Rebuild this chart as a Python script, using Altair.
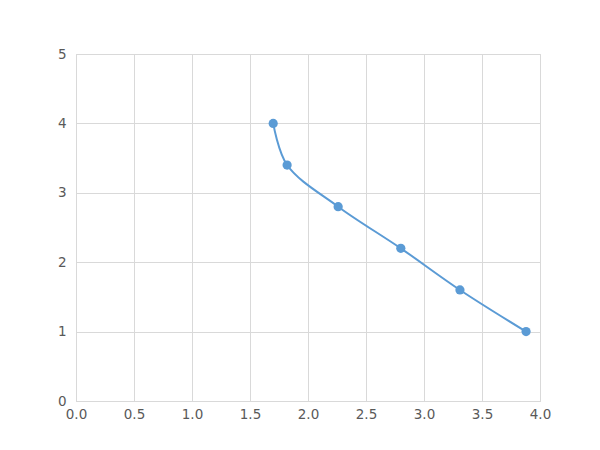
import altair as alt
import pandas as pd

x_vals = [1.70, 1.82, 2.26, 2.80, 3.31, 3.88]
y_vals = [4.0, 3.4, 2.8, 2.2, 1.6, 1.0]

df = pd.DataFrame({"x": x_vals, "y": y_vals})

color = "#5b9bd5"
xs = alt.Scale(domain=[0, 4], nice=False, zero=False)
ys = alt.Scale(domain=[0, 5], nice=False, zero=False)
xa = alt.Axis(values=[0, 0.5, 1, 1.5, 2, 2.5, 3, 3.5, 4], format=".1f", title=None,
              grid=True, gridColor="#d9d9d9", domainColor="#d9d9d9", ticks=False,
              labelFlush=False, labelColor="#595959", labelFontSize=13.5,
              labelFont="DejaVu Sans", labelPadding=6)
ya = alt.Axis(values=[0, 1, 2, 3, 4, 5], format="d", title=None,
              grid=True, gridColor="#d9d9d9", domainColor="#d9d9d9", ticks=False,
              labelFlush=False, labelColor="#595959", labelFontSize=13.5,
              labelFont="DejaVu Sans", labelPadding=10)

base = alt.Chart(df)
line = base.mark_line(color=color, strokeWidth=2, interpolate="catmull-rom").encode(
    x=alt.X("x:Q", scale=xs, axis=xa), y=alt.Y("y:Q", scale=ys, axis=ya))
pts = base.mark_point(color=color, filled=True, opacity=1, size=85).encode(
    x=alt.X("x:Q", scale=xs), y=alt.Y("y:Q", scale=ys))

chart = (line + pts).properties(
    width=464, height=347,
    autosize=alt.AutoSizeParams(type="none"),
    padding={"left": 68, "top": 46, "right": 50, "bottom": 40},
).configure_view(stroke="#d9d9d9")

chart.save("out.html", embed_options={"renderer": "svg", "actions": False})
